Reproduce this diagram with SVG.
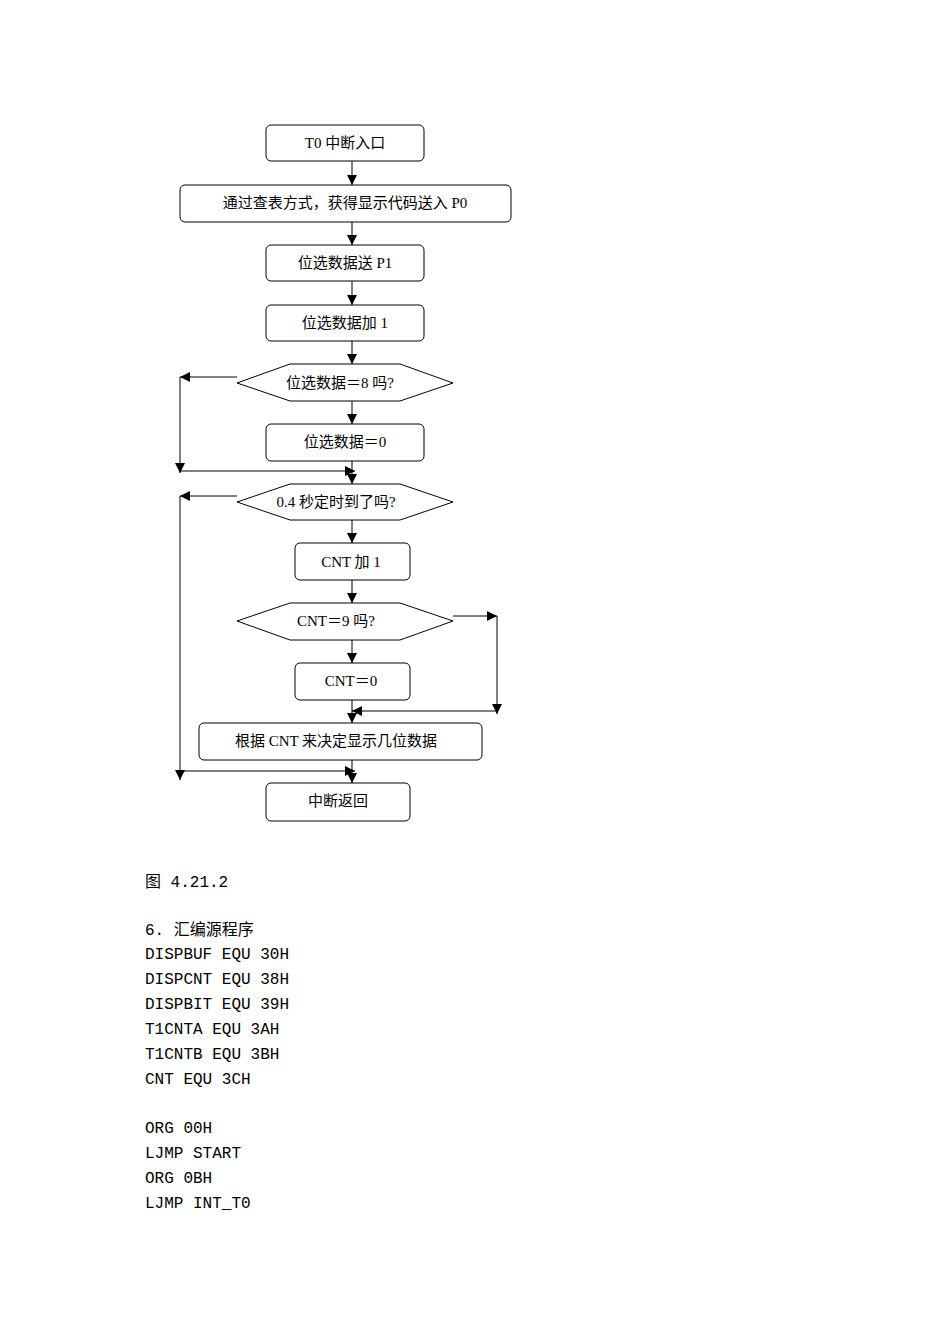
<svg xmlns="http://www.w3.org/2000/svg" width="950" height="1344" viewBox="0 0 950 1344">
<style>
.b{fill:#fff;stroke:#000;stroke-width:1}
.t{font-family:"Liberation Serif","Noto Sans CJK SC",serif;font-size:15px;text-anchor:middle}
.c{fill:none;stroke:#000;stroke-width:1}
.m{font-family:"Liberation Mono","Noto Sans CJK SC",monospace;font-size:16px}
</style>
<defs><marker id="a" viewBox="0 0 10 10" refX="10" refY="5" markerWidth="10" markerHeight="10" markerUnits="userSpaceOnUse" orient="auto"><path d="M0,0L10,5L0,10z"/></marker></defs>
<rect width="950" height="1344" fill="#fff"/>
<g id="connectors" class="c">
<path d="M352,161V185" marker-end="url(#a)"/>
<path d="M352,222V245" marker-end="url(#a)"/>
<path d="M352,281V305" marker-end="url(#a)"/>
<path d="M352,341V364" marker-end="url(#a)"/>
<path d="M352,401V424" marker-end="url(#a)"/>
<path d="M352,461V484" marker-end="url(#a)"/>
<path d="M352,520V543" marker-end="url(#a)"/>
<path d="M352,580V603" marker-end="url(#a)"/>
<path d="M352,640V663" marker-end="url(#a)"/>
<path d="M352,700V723" marker-end="url(#a)"/>
<path d="M352,760V783" marker-end="url(#a)"/>
<path d="M237,377H180" marker-end="url(#a)"/>
<path d="M180,377V473" marker-end="url(#a)"/>
<path d="M180,471H355" marker-end="url(#a)"/>
<path d="M237,496H180" marker-end="url(#a)"/>
<path d="M180,496V780" marker-end="url(#a)"/>
<path d="M180,771H355" marker-end="url(#a)"/>
<path d="M453,616H497" marker-end="url(#a)"/>
<path d="M497,616V714" marker-end="url(#a)"/>
<path d="M497,711H352" marker-end="url(#a)"/>
</g>
<g id="n1"><rect class="b" x="266" y="125" width="158" height="36" rx="5"/><text class="t" x="345" y="148">T0 中断入口</text></g>
<g id="n2"><rect class="b" x="180" y="185" width="331" height="37" rx="5"/><text class="t" x="345" y="208">通过查表方式，获得显示代码送入 P0</text></g>
<g id="n3"><rect class="b" x="266" y="245" width="158" height="36" rx="5"/><text class="t" x="345" y="268">位选数据送 P1</text></g>
<g id="n4"><rect class="b" x="266" y="305" width="158" height="36" rx="5"/><text class="t" x="345" y="328">位选数据加 1</text></g>
<g id="n5"><polygon class="b" points="237,383 290,364 400,364 453,383 400,401 290,401"/><text class="t" x="340" y="388">位选数据＝8 吗?</text></g>
<g id="n6"><rect class="b" x="266" y="424" width="158" height="37" rx="5"/><text class="t" x="345" y="447">位选数据＝0</text></g>
<g id="n7"><polygon class="b" points="237,502 290,484 400,484 453,502 400,520 290,520"/><text class="t" x="336" y="507">0.4 秒定时到了吗?</text></g>
<g id="n8"><rect class="b" x="295" y="543" width="115" height="37" rx="5"/><text class="t" x="351" y="567">CNT 加 1</text></g>
<g id="n9"><polygon class="b" points="237,621 290,603 400,603 453,621 400,640 290,640"/><text class="t" x="336" y="626">CNT＝9 吗?</text></g>
<g id="n10"><rect class="b" x="295" y="663" width="115" height="37" rx="5"/><text class="t" x="351" y="686">CNT＝0</text></g>
<g id="n11"><rect class="b" x="199" y="723" width="283" height="37" rx="5"/><text class="t" x="336" y="746">根据 CNT 来决定显示几位数据</text></g>
<g id="n12"><rect class="b" x="266" y="783" width="144" height="38" rx="5"/><text class="t" x="338" y="806">中断返回</text></g>
<g class="m">
<text x="145" y="887">图 4.21.2</text>
<text x="145" y="935">6.  汇编源程序</text>
<text x="145" y="959">DISPBUF EQU 30H</text>
<text x="145" y="984">DISPCNT EQU 38H</text>
<text x="145" y="1009">DISPBIT EQU 39H</text>
<text x="145" y="1034">T1CNTA EQU 3AH</text>
<text x="145" y="1059">T1CNTB EQU 3BH</text>
<text x="145" y="1084">CNT EQU 3CH</text>
<text x="145" y="1133">ORG 00H</text>
<text x="145" y="1158">LJMP START</text>
<text x="145" y="1183">ORG 0BH</text>
<text x="145" y="1208">LJMP INT_T0</text>
</g>
</svg>
